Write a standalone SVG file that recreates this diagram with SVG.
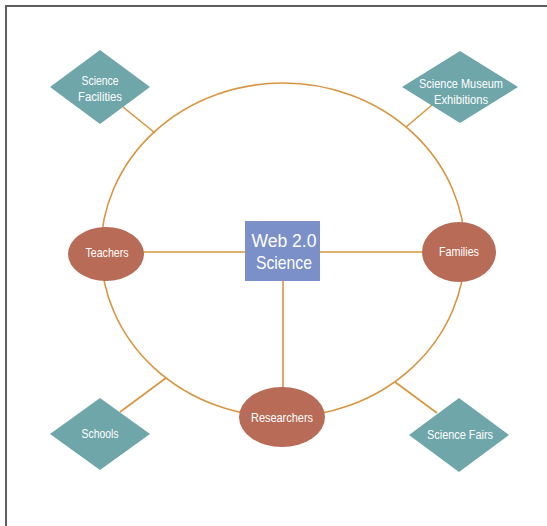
<svg xmlns="http://www.w3.org/2000/svg" width="547" height="526" viewBox="0 0 547 526">
<style>
.frame{stroke:#5e5e5e;stroke-width:2;fill:none}
.conn{stroke:#d8953f;stroke-width:1.6;fill:none}
.dia{fill:#6ea6aa}
.oval{fill:#b86b56}
.box{fill:#7b8fc8}
.lbl{font-family:"Liberation Sans",Arial,sans-serif;fill:#ffffff;text-anchor:middle}
.s{font-size:13px}
.b{font-size:19px}
</style>
<rect x="0" y="0" width="547" height="526" fill="#ffffff"/>
<path class="frame" d="M6,526 V6 H547"/>
<g id="connectors">
<ellipse class="conn" cx="283" cy="250" rx="182" ry="167"/>
<line class="conn" x1="143" y1="252" x2="245" y2="252"/>
<line class="conn" x1="320" y1="252" x2="422" y2="252"/>
<line class="conn" x1="283" y1="281" x2="283" y2="388"/>
<line class="conn" x1="123" y1="107" x2="155" y2="133"/>
<line class="conn" x1="432" y1="105" x2="406" y2="127"/>
<line class="conn" x1="120" y1="412" x2="166" y2="378"/>
<line class="conn" x1="437" y1="413" x2="395" y2="382"/>
</g>
<g id="science-facilities">
<polygon class="dia" points="100,50 150,87 100,124 50,87"/>
<text class="lbl s" x="100" y="85" textLength="37" lengthAdjust="spacingAndGlyphs">Science</text>
<text class="lbl s" x="100" y="101" textLength="44" lengthAdjust="spacingAndGlyphs">Facilities</text>
</g>
<g id="science-museum-exhibitions">
<polygon class="dia" points="460,51 518,87 460,123 402,87"/>
<text class="lbl s" x="461" y="88" textLength="84" lengthAdjust="spacingAndGlyphs">Science Museum</text>
<text class="lbl s" x="461" y="104" textLength="54" lengthAdjust="spacingAndGlyphs">Exhibitions</text>
</g>
<g id="teachers">
<ellipse class="oval" cx="106" cy="254" rx="38" ry="27"/>
<text class="lbl s" x="107" y="257" textLength="43" lengthAdjust="spacingAndGlyphs">Teachers</text>
</g>
<g id="web20">
<rect class="box" x="245" y="221" width="75" height="60"/>
<text class="lbl b" x="284" y="247" textLength="65" lengthAdjust="spacingAndGlyphs">Web 2.0</text>
<text class="lbl b" x="284" y="269" textLength="56" lengthAdjust="spacingAndGlyphs">Science</text>
</g>
<g id="families">
<ellipse class="oval" cx="459" cy="252" rx="37" ry="30"/>
<text class="lbl s" x="459" y="256" textLength="40" lengthAdjust="spacingAndGlyphs">Families</text>
</g>
<g id="researchers">
<ellipse class="oval" cx="282" cy="417" rx="43" ry="30"/>
<text class="lbl s" x="282" y="422" textLength="62" lengthAdjust="spacingAndGlyphs">Researchers</text>
</g>
<g id="schools">
<polygon class="dia" points="100,398 150,434 100,470 50,434"/>
<text class="lbl s" x="100" y="438" textLength="37" lengthAdjust="spacingAndGlyphs">Schools</text>
</g>
<g id="science-fairs">
<polygon class="dia" points="459,398 509,435 459,472 409,435"/>
<text class="lbl s" x="460" y="439" textLength="66" lengthAdjust="spacingAndGlyphs">Science Fairs</text>
</g>
</svg>
